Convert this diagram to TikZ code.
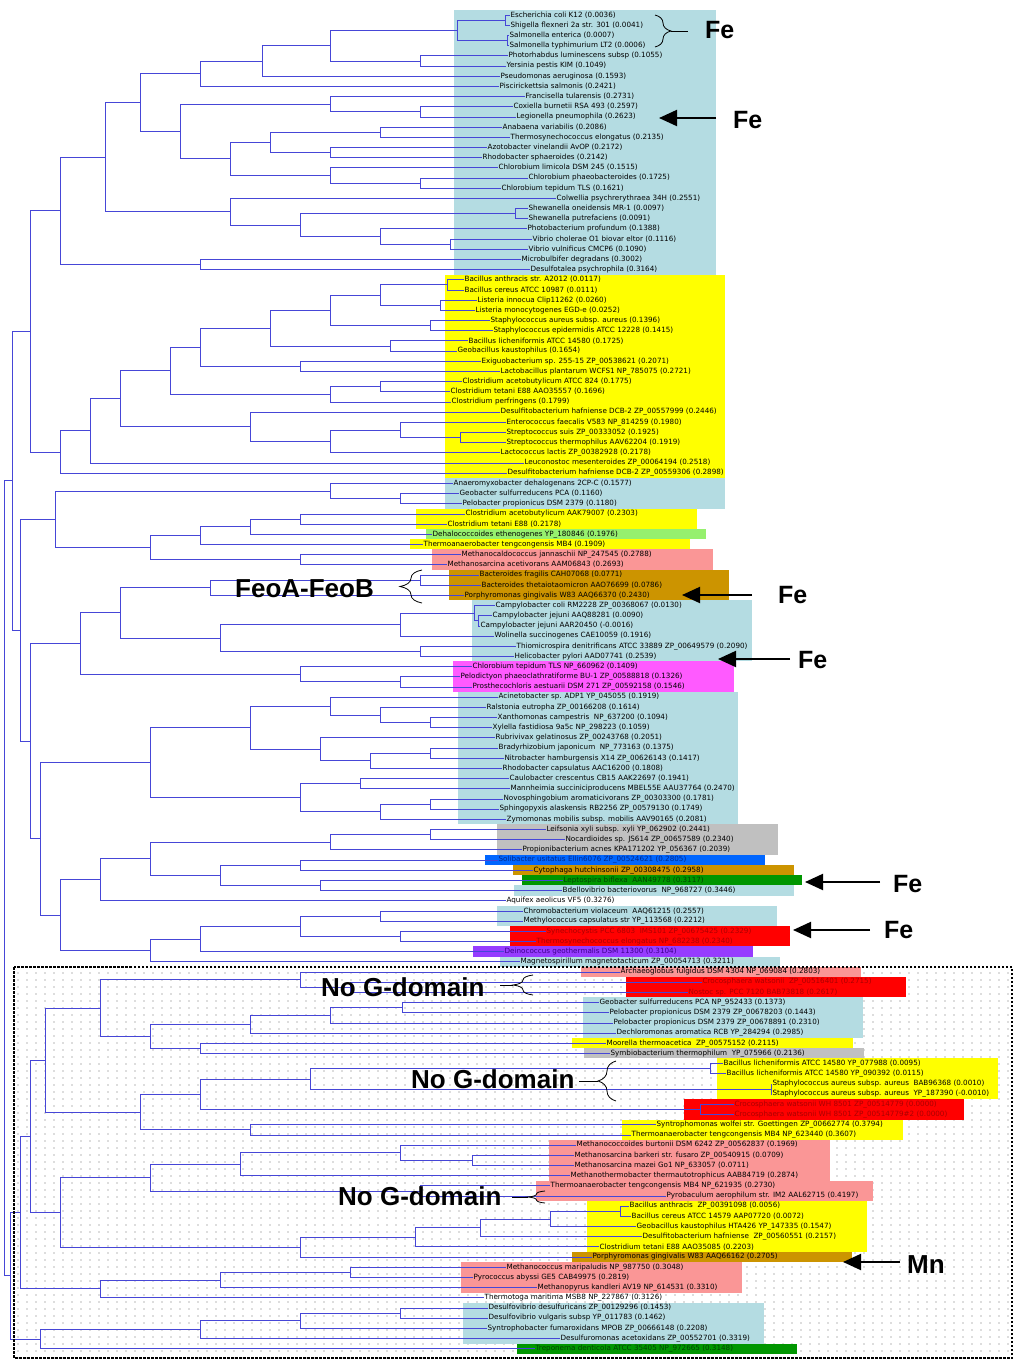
\documentclass[tikz,border=0pt]{standalone}
\usepackage{fontspec}
\setmainfont{DejaVu Sans}
\newfontfamily\annofont{Liberation Sans}
\usetikzlibrary{calc}
\usetikzlibrary{arrows.meta}
\usetikzlibrary{patterns}
\usetikzlibrary{decorations.pathreplacing}

\definecolor{treeblue}{RGB}{70,70,215}
\definecolor{bandblue}{RGB}{180,220,226}
\definecolor{bandyellow}{RGB}{255,255,0}
\definecolor{bandlime}{RGB}{150,240,110}
\definecolor{bandpink}{RGB}{250,150,150}
\definecolor{bandgold}{RGB}{204,148,0}
\definecolor{bandmagenta}{RGB}{255,90,255}
\definecolor{bandgray}{RGB}{192,192,192}
\definecolor{bandazure}{RGB}{0,102,255}
\definecolor{bandgreen}{RGB}{0,150,0}
\definecolor{bandred}{RGB}{255,0,0}
\definecolor{bandpurple}{RGB}{150,60,255}
\definecolor{txtred}{RGB}{170,0,0}
\definecolor{txtgreen}{RGB}{0,70,0}
\definecolor{txtblue}{RGB}{0,40,140}
\definecolor{txtpurple}{RGB}{60,0,140}

\pgfdeclarepatternformonly{boxdots}{\pgfqpoint{-1pt}{-1pt}}{\pgfqpoint{1pt}{1pt}}{\pgfqpoint{9pt}{7pt}}{%
  \pgfpathcircle{\pgfqpoint{0pt}{0pt}}{0.65pt}\pgfusepath{fill}}

\tikzset{
  branch/.style={draw=treeblue, line width=0.6pt},
  leaf/.style={anchor=west, inner sep=0.4pt, font=\fontsize{7.2}{8}\selectfont},
  anno/.style={anchor=base west, inner sep=0pt, font=\annofont\bfseries\fontsize{26}{30}\selectfont},
  fetext/.style={anno, font=\annofont\bfseries\fontsize{25}{30}\selectfont},
  fearrow/.style={line width=2pt, -{Triangle[length=18pt,width=16pt]}},
  clamp/.style={thick, decorate, decoration={brace, amplitude=#1}},
}

\begin{document}
\begin{tikzpicture}[x=1pt, y=-1pt, declare function={ly(\i)=15+(\i-1)*10.18;}]
\useasboundingbox (0,0) rectangle (1024,1365);

% dotted frame background
\fill[pattern=boxdots, pattern color=gray!85!black] (14,967) rectangle (1012,1358);

% colour bands
\foreach \xa/\xb/\a/\b/\c in {454/716/1/26/bandblue, 445/725/27/46/bandyellow, 445/725/47/49/bandblue,
  416/697/50/51/bandyellow, 426/706/52/52/bandlime, 410/690/53/53/bandyellow, 432/713/54/55/bandpink,
  449/729/56/58/bandgold, 472/752/59/64/bandblue, 453/734/65/67/bandmagenta, 458/738/68/80/bandblue,
  497/778/81/83/bandgray, 485/765/84/84/bandazure, 513/794/85/85/bandgold, 522/802/86/86/bandgreen,
  514/794/87/87/bandblue, 497/777/89/90/bandblue, 510/790/91/92/bandred, 473/753/93/93/bandpurple,
  500/780/94/94/bandblue, 581/861/95/95/bandpink, 626/906/96/97/bandred, 583/863/98/101/bandblue,
  572/853/102/102/bandyellow, 584/864/103/103/bandgray, 717/998/104/107/bandyellow, 684/964/108/109/bandred,
  622/903/110/111/bandyellow, 549/830/112/115/bandpink, 536/873/116/117/bandpink, 587/867/118/122/bandyellow,
  572/852/123/123/bandgold, 461/742/124/126/bandpink, 463/764/128/131/bandblue, 517/797/132/132/bandgreen}
  \fill[\c] (\xa,{ly(\a)-5.09}) rectangle (\xb,{ly(\b)+5.09});

% leaves
\foreach \i/\lx/\tc/\txt in {
  1/511/black/{Escherichia coli K12 (0.0036)},
  2/511/black/{Shigella flexneri 2a str. 301 (0.0041)},
  3/510/black/{Salmonella enterica (0.0007)},
  4/510/black/{Salmonella typhimurium LT2 (0.0006)},
  5/509/black/{Photorhabdus luminescens subsp (0.1055)},
  6/507/black/{Yersinia pestis KIM (0.1049)},
  7/501/black/{Pseudomonas aeruginosa (0.1593)},
  8/500/black/{Piscirickettsia salmonis (0.2421)},
  9/526/black/{Francisella tularensis (0.2731)},
  10/514/black/{Coxiella burnetii RSA 493 (0.2597)},
  11/517/black/{Legionella pneumophila (0.2623)},
  12/503/black/{Anabaena variabilis (0.2086)},
  13/511/black/{Thermosynechococcus elongatus (0.2135)},
  14/488/black/{Azotobacter vinelandii AvOP (0.2172)},
  15/483/black/{Rhodobacter sphaeroides (0.2142)},
  16/499/black/{Chlorobium limicola DSM 245 (0.1515)},
  17/529/black/{Chlorobium phaeobacteroides (0.1725)},
  18/502/black/{Chlorobium tepidum TLS (0.1621)},
  19/557/black/{Colwellia psychrerythraea 34H (0.2551)},
  20/529/black/{Shewanella oneidensis MR-1 (0.0097)},
  21/529/black/{Shewanella putrefaciens (0.0091)},
  22/528/black/{Photobacterium profundum (0.1388)},
  23/533/black/{Vibrio cholerae O1 biovar eltor (0.1116)},
  24/529/black/{Vibrio vulnificus CMCP6 (0.1090)},
  25/522/black/{Microbulbifer degradans (0.3002)},
  26/531/black/{Desulfotalea psychrophila (0.3164)},
  27/465/black/{Bacillus anthracis str. A2012 (0.0117)},
  28/465/black/{Bacillus cereus ATCC 10987 (0.0111)},
  29/478/black/{Listeria innocua Clip11262 (0.0260)},
  30/476/black/{Listeria monocytogenes EGD-e (0.0252)},
  31/491/black/{Staphylococcus aureus subsp. aureus (0.1396)},
  32/494/black/{Staphylococcus epidermidis ATCC 12228 (0.1415)},
  33/469/black/{Bacillus licheniformis ATCC 14580 (0.1725)},
  34/458/black/{Geobacillus kaustophilus (0.1654)},
  35/482/black/{Exiguobacterium sp. 255-15 ZP\_00538621 (0.2071)},
  36/501/black/{Lactobacillus plantarum WCFS1 NP\_785075 (0.2721)},
  37/463/black/{Clostridium acetobutylicum ATCC 824 (0.1775)},
  38/451/black/{Clostridium tetani E88 AAO35557 (0.1696)},
  39/452/black/{Clostridium perfringens (0.1799)},
  40/501/black/{Desulfitobacterium hafniense DCB-2 ZP\_00557999 (0.2446)},
  41/507/black/{Enterococcus faecalis V583 NP\_814259 (0.1980)},
  42/507/black/{Streptococcus suis ZP\_00333052 (0.1925)},
  43/507/black/{Streptococcus thermophilus AAV62204 (0.1919)},
  44/501/black/{Lactococcus lactis ZP\_00382928 (0.2178)},
  45/525/black/{Leuconostoc mesenteroides ZP\_00064194 (0.2518)},
  46/508/black/{Desulfitobacterium hafniense DCB-2 ZP\_00559306 (0.2898)},
  47/454/black/{Anaeromyxobacter dehalogenans 2CP-C (0.1577)},
  48/460/black/{Geobacter sulfurreducens PCA (0.1160)},
  49/463/black/{Pelobacter propionicus DSM 2379 (0.1180)},
  50/466/black/{Clostridium acetobutylicum AAK79007 (0.2303)},
  51/448/black/{Clostridium tetani E88 (0.2178)},
  52/433/black/{Dehalococcoides ethenogenes YP\_180846 (0.1976)},
  53/424/black/{Thermoanaerobacter tengcongensis MB4 (0.1909)},
  54/462/black/{Methanocaldococcus jannaschii NP\_247545 (0.2788)},
  55/448/black/{Methanosarcina acetivorans AAM06843 (0.2693)},
  56/480/black/{Bacteroides fragilis CAH07068 (0.0771)},
  57/482/black/{Bacteroides thetaiotaomicron AAO76699 (0.0786)},
  58/465/black/{Porphyromonas gingivalis W83 AAQ66370 (0.2430)},
  59/496/black/{Campylobacter coli RM2228 ZP\_00368067 (0.0130)},
  60/493/black/{Campylobacter jejuni AAQ88281 (0.0090)},
  61/481/black/{Campylobacter jejuni AAR20450 (-0.0016)},
  62/495/black/{Wolinella succinogenes CAE10059 (0.1916)},
  63/517/black/{Thiomicrospira denitrificans ATCC 33889 ZP\_00649579 (0.2090)},
  64/515/black/{Helicobacter pylori AAD07741 (0.2539)},
  65/473/black/{Chlorobium tepidum TLS NP\_660962 (0.1409)},
  66/461/black/{Pelodictyon phaeoclathratiforme BU-1 ZP\_00588818 (0.1326)},
  67/473/black/{Prosthecochloris aestuarii DSM 271 ZP\_00592158 (0.1546)},
  68/499/black/{Acinetobacter sp. ADP1 YP\_045055 (0.1919)},
  69/487/black/{Ralstonia eutropha ZP\_00166208 (0.1614)},
  70/498/black/{Xanthomonas campestris\ \ NP\_637200 (0.1094)},
  71/493/black/{Xylella fastidiosa 9a5c NP\_298223 (0.1059)},
  72/496/black/{Rubrivivax gelatinosus ZP\_00243768 (0.2051)},
  73/499/black/{Bradyrhizobium japonicum\ \ NP\_773163 (0.1375)},
  74/505/black/{Nitrobacter hamburgensis X14 ZP\_00626143 (0.1417)},
  75/503/black/{Rhodobacter capsulatus AAC16200 (0.1808)},
  76/510/black/{Caulobacter crescentus CB15 AAK22697 (0.1941)},
  77/511/black/{Mannheimia succiniciproducens MBEL55E AAU37764 (0.2470)},
  78/504/black/{Novosphingobium aromaticivorans ZP\_00303300 (0.1781)},
  79/500/black/{Sphingopyxis alaskensis RB2256 ZP\_00579130 (0.1749)},
  80/507/black/{Zymomonas mobilis subsp. mobilis AAV90165 (0.2081)},
  81/547/black/{Leifsonia xyli subsp. xyli YP\_062902 (0.2441)},
  82/566/black/{Nocardioides sp. JS614 ZP\_00657589 (0.2340)},
  83/523/black/{Propionibacterium acnes KPA171202 YP\_056367 (0.2039)},
  84/499/txtblue/{Solibacter usitatus Ellin6076 ZP\_00524621 (0.2805)},
  85/534/black/{Cytophaga hutchinsonii ZP\_00308475 (0.2958)},
  86/564/txtgreen/{Leptospira biflexa\ \ AAN49778 (0.3117)},
  87/563/black/{Bdellovibrio bacteriovorus\ \ NP\_968727 (0.3446)},
  88/507/black/{Aquifex aeolicus VF5 (0.3276)},
  89/524/black/{Chromobacterium violaceum\ \ AAQ61215 (0.2557)},
  90/524/black/{Methylococcus capsulatus str YP\_113568 (0.2212)},
  91/547/txtred/{Synechocystis PCC 6803\ \ IMS101 ZP\_00675425 (0.2329)},
  92/537/txtred/{Thermosynechococcus elongatus NP\_682238 (0.2340)},
  93/505/txtpurple/{Deinococcus geothermalis DSM 11300 (0.3104)},
  94/521/black/{Magnetospirillum magnetotacticum ZP\_00054713 (0.3211)},
  95/621/black/{Archaeoglobus fulgidus DSM 4304 NP\_069084 (0.2803)},
  96/703/txtred/{Crocosphaera watsonii\ \ ZP\_00516401 (0.2715)},
  97/689/txtred/{Nostoc sp. PCC 7120 BAB73818 (0.2617)},
  98/600/black/{Geobacter sulfurreducens PCA NP\_952433 (0.1373)},
  99/610/black/{Pelobacter propionicus DSM 2379 ZP\_00678203 (0.1443)},
  100/614/black/{Pelobacter propionicus DSM 2379 ZP\_00678891 (0.2310)},
  101/617/black/{Dechloromonas aromatica RCB YP\_284294 (0.2985)},
  102/607/black/{Moorella thermoacetica\ \ ZP\_00575152 (0.2115)},
  103/611/black/{Symbiobacterium thermophilum\ \ YP\_075966 (0.2136)},
  104/724/black/{Bacillus licheniformis ATCC 14580 YP\_077988 (0.0095)},
  105/727/black/{Bacillus licheniformis ATCC 14580 YP\_090392 (0.0115)},
  106/773/black/{Staphylococcus aureus subsp. aureus\ \ BAB96368 (0.0010)},
  107/773/black/{Staphylococcus aureus subsp. aureus\ \ YP\_187390 (-0.0010)},
  108/735/txtred/{Crocosphaera watsonii WH 8501 ZP\_00514779 (0.0000)},
  109/735/txtred/{Crocosphaera watsonii WH 8501 ZP\_00514779\#2 (0.0000)},
  110/657/black/{Syntrophomonas wolfei str. Goettingen ZP\_00662774 (0.3794)},
  111/632/black/{Thermoanaerobacter tengcongensis MB4 NP\_623440 (0.3607)},
  112/577/black/{Methanococcoides burtonii DSM 6242 ZP\_00562837 (0.1969)},
  113/575/black/{Methanosarcina barkeri str. fusaro ZP\_00540915 (0.0709)},
  114/575/black/{Methanosarcina mazei Go1 NP\_633057 (0.0711)},
  115/571/black/{Methanothermobacter thermautotrophicus AAB84719 (0.2874)},
  116/551/black/{Thermoanaerobacter tengcongensis MB4 NP\_621935 (0.2730)},
  117/667/black/{Pyrobaculum aerophilum str. IM2 AAL62715 (0.4197)},
  118/630/black/{Bacillus anthracis\ \ ZP\_00391098 (0.0056)},
  119/632/black/{Bacillus cereus ATCC 14579 AAP07720 (0.0072)},
  120/637/black/{Geobacillus kaustophilus HTA426 YP\_147335 (0.1547)},
  121/643/black/{Desulfitobacterium hafniense\ \ ZP\_00560551 (0.2157)},
  122/600/black/{Clostridium tetani E88 AAO35085 (0.2203)},
  123/593/black/{Porphyromonas gingivalis W83 AAQ66162 (0.2705)},
  124/507/black/{Methanococcus maripaludis NP\_987750 (0.3048)},
  125/474/black/{Pyrococcus abyssi GE5 CAB49975 (0.2819)},
  126/538/black/{Methanopyrus kandleri AV19 NP\_614531 (0.3310)},
  127/485/black/{Thermotoga maritima MSB8 NP\_227867 (0.3126)},
  128/489/black/{Desulfovibrio desulfuricans ZP\_00129296 (0.1453)},
  129/489/black/{Desulfovibrio vulgaris subsp YP\_011783 (0.1462)},
  130/488/black/{Syntrophobacter fumaroxidans MPOB ZP\_00666148 (0.2208)},
  131/561/black/{Desulfuromonas acetoxidans ZP\_00552701 (0.3319)},
  132/536/txtgreen/{Treponema denticola ATCC 35405 NP\_972665 (0.3148)}}
  \node[leaf, text=\tc] (L\i) at (\lx-1,{ly(\i)}) {\txt};

% inner nodes of the tree (x in px, y as leaf index)
\foreach \n/\x/\y in {n1/505/1.5, n2/507/3.5, n3/457/2.5, n4/420/5.5, n5/330/4, n6/262/5.5, n7/200/6.75,
  n8/420/10.5, n9/330/9.75, n10/380/12.5, n11/330/14.5, n12/270/13.5, n13/420/17.5, n14/330/16.75,
  n15/230/15.125, n16/180/12.4375, n17/140/9.594, n18/515/20.5, n19/450/23.5, n20/380/22.75,
  n21/300/21.625, n22/230/20.3125, n23/105/14.953, n24/200/25.5, t0/60/20.227,
  y1/447/27.5, y2/440/29.5, y3/380/28.5, y4/430/31.5, y5/330/30, y6/390/33.5, y7/270/31.75,
  y8/300/35.5, y9/200/33.625, y10/380/37.5, y11/330/38.25, y12/170/35.9375, y13a/460/42.5,
  y13/400/41.75, y14/330/42.875, y15/250/41.4375, y16/120/38.6875, y17/90/41.844, y0/60/43.922,
  u1/30/32.07,
  m1/400/48.5, m2/330/47.75, m3/300/50.5, m4/250/51.25, m5/200/52.125, m6/300/54.5, m7/150/53.3125,
  m8/55/50.53, m9/420/56.5, m10/210/57.25, m11/478/60.5, m12/474/59.75, m13/400/60.875, m14/420/63.5,
  m15/220/62.1875, m16/120/59.719, m17/400/66.5, m18/300/65.75, m19/80/62.734,
  b1/430/70.5, b2/380/69.75, b3/330/68.875, b4/430/73.5, b5/370/74.25, b6/320/73.125, b7/250/71,
  b8/430/78.5, b9/380/79.25, b10/360/76.5, b11/300/77.875, b12/150/74.4375,
  g1/430/81.5, g2/330/82.25, g3/300/84.5, g4/320/86.5, g5/220/85.5, g6/150/83.875, g12/100/85.9375,
  g7/380/89.5, g8/400/91.5, g9/300/90.5, g10/200/91.75, g11/150/92.875, g13/60/89.406,
  m20/40/81.92, m21/30/72.33, m0/20/61.43, u0/12/46.75,
  p1/350/96.5, p2/300/95.75, p3/402/98.5, p4/330/99.25, p5/250/100.125, p6/200/102.5, p7/150/101.3125,
  p8/100/98.53, p9/710/104.5, p10/771/106.5, p11/310/105.5, p12/700/108.5, p13/200/107, p14/250/110.5,
  p15/140/108.75, p16/472/113.5, p17/400/112.75, p18/240/113.875, p19/420/116.5, p20/150/115.1875,
  p21/620/118.5, p22/550/119.25, p23/480/120.125, p24/415/121.0625, p25/300/122.03, p26/60/118.61,
  p27/350/124.5, p28/220/125.25, p29/100/126.125, p30/400/128.5, p31/300/129.25, p32/200/130.125,
  p33/40/131.06, p34/45/103.64, p35/30/111.125, p36/20/118.63, b0/10/124.84, root/4/85.8}
  \coordinate (\n) at (\x,{ly(\y)});

% branches to the leaves
\foreach \p/\i in {n1/1, n1/2, n2/3, n2/4, n4/5, n4/6, n6/7, n7/8, n9/9, n8/10, n8/11, n10/12, n10/13,
  n11/14, n11/15, n14/16, n13/17, n13/18, n22/19, n18/20, n18/21, n20/22, n19/23, n19/24, n24/25, n24/26,
  y1/27, y1/28, y2/29, y2/30, y4/31, y4/32, y6/33, y6/34, y8/35, y8/36, y10/37, y10/38, y11/39, y15/40,
  y13/41, y13a/42, y13a/43, y14/44, y17/45, y0/46,
  m2/47, m1/48, m1/49, m3/50, m3/51, m4/52, m5/53, m6/54, m6/55, m9/56, m9/57, m10/58, m12/59, m11/60,
  m11/61, m13/62, m14/63, m14/64, m18/65, m17/66, m17/67,
  b3/68, b2/69, b1/70, b1/71, b6/72, b4/73, b4/74, b5/75, b10/76, b10/77, b8/78, b8/79, b9/80,
  g1/81, g1/82, g2/83, g3/84, g3/85, g4/86, g4/87, g12/88, g7/89, g7/90, g8/91, g8/92, g10/93, g11/94,
  p2/95, p1/96, p1/97, p3/98, p3/99, p4/100, p5/101, p6/102, p6/103, p9/104, p9/105, p10/106, p10/107,
  p12/108, p12/109, p14/110, p14/111, p17/112, p16/113, p16/114, p18/115, p19/116, p19/117, p21/118,
  p21/119, p22/120, p23/121, p24/122, p25/123, p27/124, p27/125, p28/126, p29/127, p30/128, p30/129,
  p31/130, p32/131, p33/132}
  \draw[branch] (\p) |- (L\i.west);

% inner branches
\foreach \p/\c in {n3/n1, n3/n2, n5/n3, n5/n4, n6/n5, n7/n6, n9/n8, n12/n10, n12/n11, n14/n13, n15/n12,
  n15/n14, n16/n9, n16/n15, n17/n7, n17/n16, n21/n18, n20/n19, n21/n20, n22/n21, n23/n17, n23/n22,
  t0/n23, t0/n24,
  y3/y1, y3/y2, y5/y3, y5/y4, y7/y5, y7/y6, y9/y7, y9/y8, y11/y10, y12/y9, y12/y11, y13/y13a, y14/y13,
  y15/y14, y16/y12, y16/y15, y17/y16, y0/y17, u1/t0, u1/y0,
  m2/m1, m4/m3, m5/m4, m7/m5, m7/m6, m8/m2, m8/m7, m10/m9, m12/m11, m13/m12, m15/m13, m15/m14,
  m16/m10, m16/m15, m18/m17, m19/m16, m19/m18,
  b2/b1, b3/b2, b5/b4, b6/b5, b7/b3, b7/b6, b9/b8, b11/b10, b11/b9, b12/b7, b12/b11,
  g2/g1, g5/g3, g5/g4, g6/g2, g6/g5, g12/g6, g9/g7, g9/g8, g10/g9, g11/g10, g13/g12, g13/g11,
  m20/b12, m20/g13, m21/m19, m21/m20, m0/m8, m0/m21, u0/u1, u0/m0,
  p2/p1, p4/p3, p5/p4, p7/p5, p7/p6, p8/p2, p8/p7, p11/p9, p11/p10, p13/p11, p13/p12, p15/p13,
  p15/p14, p17/p16, p18/p17, p20/p18, p20/p19, p22/p21, p23/p22, p24/p23, p25/p24, p26/p20, p26/p25,
  p28/p27, p29/p28, p31/p30, p32/p31, p33/p32, p34/p8, p34/p15, p35/p34, p35/p26, p36/p35, p36/p29,
  b0/p36, b0/p33, root/u0, root/b0}
  \draw[branch] (\p) |- (\c);

% frame of the lower group
\draw[line width=2.4pt, dash pattern=on 2.5pt off 1.5pt] (14,967) rectangle (1012,1358);

% annotations
\node[fetext] (fe1) at (705,38.5) {Fe};
\node[fetext] (fe2) at (733,128) {Fe};
\node[fetext] (fe3) at (778,603) {Fe};
\node[fetext] (fe4) at (798,668) {Fe};
\node[fetext] (fe5) at (893,892) {Fe};
\node[fetext] (fe6) at (884,938) {Fe};
\node[anno] (mn) at (907,1273) {Mn};
\node[anno] (feo) at (235,597) {FeoA-FeoB};
\node[anno] (nog1) at (321,996) {No G-domain};
\node[anno] (nog2) at (411,1088) {No G-domain};
\node[anno] (nog3) at (338,1205) {No G-domain};

\foreach \s/\e/\y [count=\k] in {716/659/118, 752/682/595, 790/718/659, 880/805/882, 870/793/930, 900/843/1262} {
  \coordinate (as\k) at (\s,\y);
  \coordinate (ae\k) at (\e,\y);
  \draw[fearrow] (as\k) -- (ae\k);
}

% braces
\draw[clamp=16pt] (655,15) -- (655,47);
\draw[thick] (671,31) -- (688,31);
\draw[clamp=22pt] (422,603) -- (422,570);
\draw[clamp=20pt] (533,995) -- (533,975);
\draw[thick] (500,985) -- (513,985);
\draw[clamp=18pt] (616,1101) -- (616,1061);
\draw[thick] (579,1081) -- (598,1081);
\draw[clamp=17pt] (545,1203) -- (545,1191);
\draw[thick] (512,1197) -- (528,1197);
\end{tikzpicture}
\end{document}
